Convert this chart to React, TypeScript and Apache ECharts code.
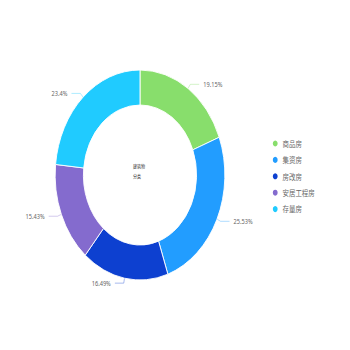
import React, { useEffect, useRef } from "react";
import * as echarts from "echarts";

const categories = ["商品房", "集资房", "房改房", "安居工程房", "存量房"];
const values = [19.15, 25.53, 16.49, 15.43, 23.4];
const centerLines = ["建筑物", "分类"];

const palette = ["#88DE6C", "#229DFF", "#0D40D0", "#846BCE", "#20CBFF"];
const SX = 0.8083;
const W = 350 / SX;
const H = 350;

export default function App() {
  const ref = useRef<HTMLDivElement>(null);
  useEffect(() => {
    if (!ref.current) return;
    const chart = echarts.init(ref.current, null, { renderer: "svg", width: W, height: H });
    chart.setOption({
      animation: false,
      color: palette,
      legend: {
        orient: "vertical",
        left: 330.5,
        top: 133.5,
        itemWidth: 8,
        itemHeight: 8,
        itemGap: 6.4,
        icon: "circle",
        data: categories,
        textStyle: { fontSize: 8, color: "#666", lineHeight: 8, fontFamily: "Noto Sans CJK SC" },
      },
      graphic: [
        {
          type: "text",
          left: 164.5,
          top: 160.5,
          style: {
            text: centerLines.join("\n"),
            fontSize: 5,
            lineHeight: 10,
            fill: "#333",
            fontFamily: "Noto Sans CJK SC",
          },
        },
      ],
      series: [
        {
          type: "pie",
          center: ["40%", "50%"],
          radius: ["40%", "60%"],
          startAngle: 90,
          clockwise: true,
          itemStyle: { borderColor: "#fff", borderWidth: 1 },
          label: {
            show: true,
            formatter: "{c}%",
            fontSize: 7,
            color: "#666",
            fontFamily: "Noto Sans",
          },
          labelLine: { show: true, length: 5, length2: 11, lineStyle: { opacity: 0.4, width: 1 } },
          emphasis: { disabled: true },
          data: categories.map((name, i) => ({ name, value: values[i] })),
        },
      ],
    });
    return () => chart.dispose();
  }, []);
  return (
    <div style={{ position: "fixed", left: 0, top: 0, width: 350, height: 350, overflow: "hidden", background: "#fff" }}>
      <div
        ref={ref}
        style={{ width: W, height: H, transform: `scaleX(${SX})`, transformOrigin: "0 0" }}
      />
    </div>
  );
}
